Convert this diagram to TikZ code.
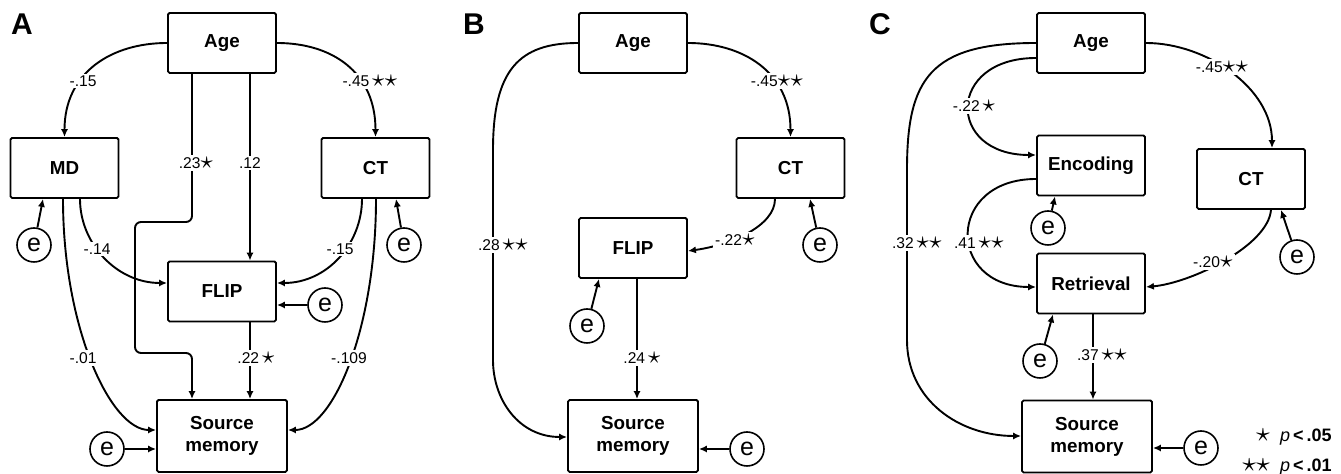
\documentclass[tikz,border=0pt]{standalone}
\usepackage{fontspec}
\setmainfont{Liberation Sans}
\usetikzlibrary{arrows.meta,calc}
\newcommand{\pstar}{\scalebox{1.5}{\ensuremath{\star}}}
\begin{document}
\begin{tikzpicture}[x=0.5pt,y=-0.5pt,
  box/.style={draw, line width=0.95pt, rounded corners=0.8pt, minimum width=54pt, minimum height=30pt, inner sep=0pt, font=\fontsize{9.4}{11}\selectfont\bfseries, align=center},
  bigbox/.style={box, minimum width=65pt, minimum height=36pt},
  err/.style={draw, circle, line width=0.8pt, minimum size=17pt, inner sep=0pt, font=\fontsize{12.5}{12}\selectfont},
  lbl/.style={fill=white, inner sep=1pt, font=\fontsize{7.8}{9}\selectfont},
  arr/.style={line width=0.95pt, -{Latex[length=4pt,width=3.6pt]}},
  panel/.style={font=\fontsize{15}{15}\selectfont\bfseries},
  legend/.style={anchor=east, inner sep=0pt, font=\fontsize{9}{10}\selectfont}]
\useasboundingbox (0,0) rectangle (1341,474);

% ---------------- Panel A ----------------
\node[panel] (lA) at (22,24) {A};
\node[box] (ageA) at (222,43) {Age};
\node[box] (mdA) at (64.5,168) {MD};
\node[box] (ctA) at (375.5,168) {CT};
\node[box] (flipA) at (222,291.5) {FLIP};
\node[bigbox] (srcA) at (222,436) {Source\\memory};
\node[err] (eA1) at (34,245) {e};
\node[err] (eA2) at (404,245) {e};
\node[err] (eA3) at (325,305) {e};
\node[err] (eA4) at (107,449) {e};

\coordinate (a1) at (192,222);
\coordinate (a2) at (135,222);
\coordinate (a3) at (135,353);
\coordinate (a4) at (192,353);

\draw[arr] (ageA.west) .. controls +(-55,0) and +(0,-65) .. (mdA.north);
\draw[arr] (ageA.east) .. controls +(55,0) and +(0,-65) .. (ctA.north);
\draw[arr, rounded corners=3pt] ($(ageA.south)+(-30,0)$) -- (a1) -- (a2) -- (a3) -- (a4) -- ($(srcA.north)+(-30,0)$);
\draw[arr] ($(ageA.south)+(28,0)$) -- ($(flipA.north)+(28,0)$);
\draw[arr] ($(mdA.south)+(15.5,0)$) .. controls +(0,45) and +(-50,0) .. ($(flipA.west)+(0,-8.5)$);
\draw[arr] ($(ctA.south)+(-13.5,0)$) .. controls +(0,45) and +(50,0) .. ($(flipA.east)+(0,-8.5)$);
\draw[arr] ($(mdA.south)+(-1.5,0)$) .. controls +(0,130) and +(-45,0) .. ($(srcA.west)+(0,-6)$);
\draw[arr] ($(ctA.south)+(0.5,0)$) .. controls +(0,130) and +(45,0) .. ($(srcA.east)+(0,-6)$);
\draw[arr] ($(flipA.south)+(28,0)$) -- ($(srcA.north)+(28,0)$);
\draw[arr] (eA1) -- ($(mdA.south)+(-21.5,0)$);
\draw[arr] (eA2) -- ($(ctA.south)+(20.5,0)$);
\draw[arr] (eA3) -- ($(flipA.east)+(0,13.5)$);
\draw[arr] (eA4) -- ($(srcA.west)+(0,13)$);

\node[lbl] at (83,81) {-.15};
\node[lbl] at (370,81) {-.45\,\pstar\pstar};
\node[lbl] at (196,163) {.23\pstar};
\node[lbl] at (250,163) {.12};
\node[lbl] at (97,249) {-.14};
\node[lbl] at (340,249) {-.15};
\node[lbl] at (83,358) {-.01};
\node[lbl] at (349,358) {-.109};
\node[lbl] at (256,358) {.22\,\pstar};

% ---------------- Panel B ----------------
\node[panel] (lB) at (474,24) {B};
\node[box] (ageB) at (633,43) {Age};
\node[box] (ctB) at (790.5,168) {CT};
\node[box] (flipB) at (633,248) {FLIP};
\node[bigbox] (srcB) at (633,436) {Source\\memory};
\node[err] (eB1) at (820,245) {e};
\node[err] (eB2) at (587,326) {e};
\node[err] (eB3) at (747,449) {e};

\coordinate (b1) at (493,150);
\coordinate (b2) at (493,360);

\draw[arr] (ageB.east) .. controls +(55,0) and +(0,-65) .. (ctB.north);
\draw[arr] (ageB.west) .. controls +(-59,0) and +(0,-80) .. (b1) -- (b2) .. controls +(0,40) and +(-48,0) .. ($(srcB.west)+(0,1)$);
\draw[arr] ($(ctB.south)+(-15.5,0)$) .. controls +(0,27) and +(43,-6) .. ($(flipB.east)+(0,3)$);
\draw[arr] (eB1) -- ($(ctB.south)+(19.5,0)$);
\draw[arr] (eB2) -- ($(flipB.south)+(-34,0)$);
\draw[arr] ($(flipB.south)+(4,0)$) -- ($(srcB.north)+(4,0)$);
\draw[arr] (eB3) -- ($(srcB.east)+(0,13)$);

\node[lbl] at (777,81) {-.45\pstar\pstar};
\node[lbl] at (503,245) {.28\,\pstar\pstar};
\node[lbl] at (735,240) {-.22\pstar};
\node[lbl] at (642,358) {.24\,\pstar};

% ---------------- Panel C ----------------
\node[panel] (lC) at (880,24) {C};
\node[box] (ageC) at (1091,43) {Age};
\node[box] (encC) at (1091,165.5) {Encoding};
\node[box] (ctC) at (1251,179) {CT};
\node[box] (retC) at (1091,283.5) {Retrieval};
\node[bigbox] (srcC) at (1087,436.5) {Source\\memory};
\node[err] (eC1) at (1048,228) {e};
\node[err] (eC2) at (1040,361) {e};
\node[err] (eC3) at (1297,257) {e};
\node[err] (eC4) at (1201,448) {e};

\coordinate (c1) at (907,170);
\coordinate (c2) at (907,340);

\draw[arr] (ageC.east) .. controls +(60,0) and +(0,-60) .. ($(ctC.north)+(21,0)$);
\draw[arr] ($(ageC.west)+(0,15)$) .. controls +(-90,0) and +(-90,0) .. ($(encC.west)+(0,-10.5)$);
\draw[arr] (ageC.west) .. controls +(-107,0) and +(0,-90) .. (c1) -- (c2) .. controls +(0,60) and +(-62,0) .. ($(srcC.west)+(0,-0.5)$);
\draw[arr] ($(encC.west)+(0,13.5)$) .. controls +(-90,0) and +(-90,0) .. ($(retC.west)+(0,3.5)$);
\draw[arr] ($(ctC.south)+(20,0)$) .. controls +(-3,36) and +(45,-4) .. ($(retC.east)+(0,3.5)$);
\draw[arr] (eC3) -- ($(ctC.south)+(30,0)$);
\draw[arr] (eC1) -- ($(encC.south)+(-36,0)$);
\draw[arr] (eC2) -- ($(retC.south)+(-38,0)$);
\draw[arr] ($(retC.south)+(2,0)$) -- ($(srcC.north)+(6,0)$);
\draw[arr] (eC4) -- ($(srcC.east)+(0,11.5)$);

\node[lbl] at (1222,67) {-.45\pstar\pstar};
\node[lbl] at (974,106) {-.22\,\pstar};
\node[lbl] at (917,243) {.32\,\pstar\pstar};
\node[lbl] at (979,243) {.41\,\pstar\pstar};
\node[lbl] at (1213,262) {-.20\pstar};
\node[lbl] at (1102,355) {.37\,\pstar\pstar};

\node[legend] (leg1) at (1332,437) {\pstar\ \ \textit{p}\,\textbf{<\,.05}};
\node[legend] (leg2) at (1332,467) {\pstar\pstar\ \ \textit{p}\,\textbf{<\,.01}};
\end{tikzpicture}
\end{document}
